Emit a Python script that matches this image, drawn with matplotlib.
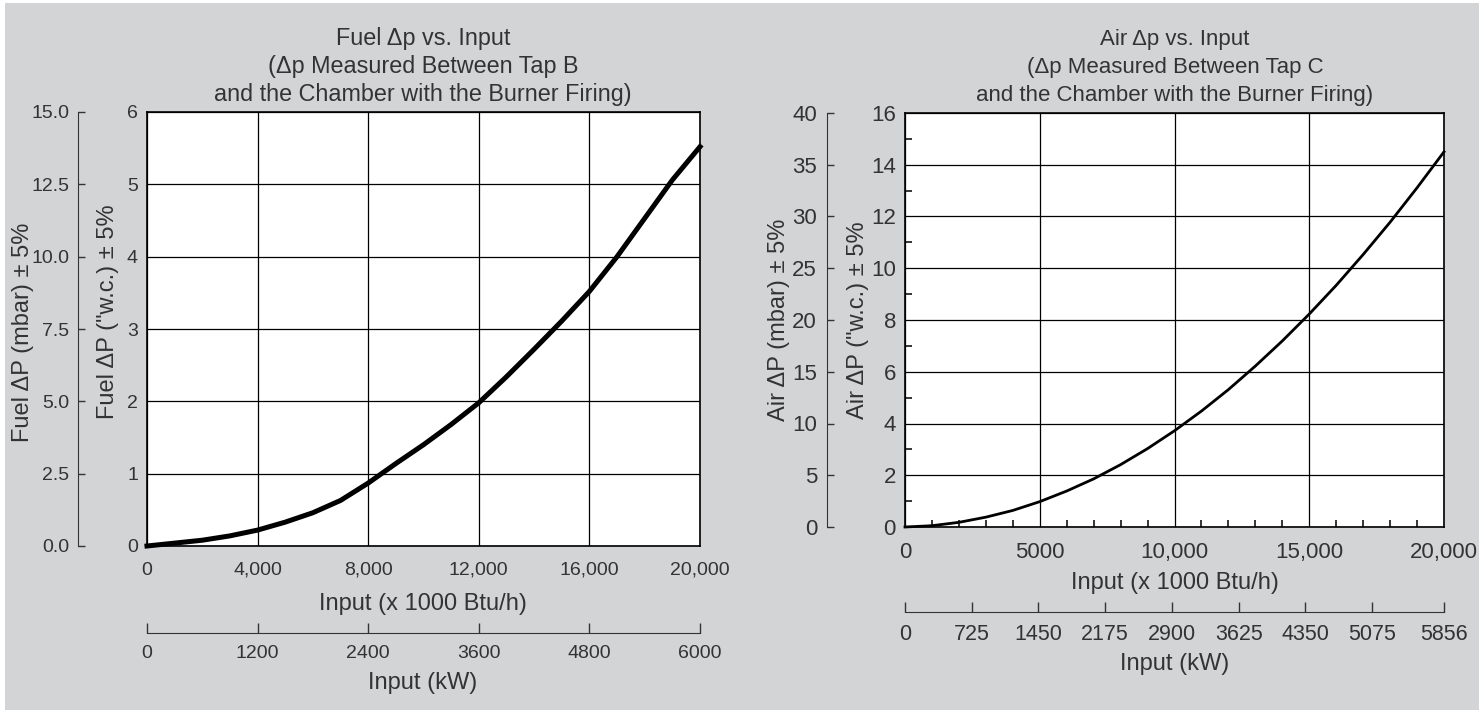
import matplotlib
matplotlib.use('Agg')
import matplotlib.pyplot as plt
from matplotlib.patches import Rectangle
from matplotlib.ticker import MultipleLocator

plt.rcParams['font.family'] = ['Liberation Sans', 'DejaVu Sans']

# Fuel chart (left): input in 1000 Btu/h, delta p in "w.c.
fuel_input = [0, 1000, 2000, 3000, 4000, 5000, 6000, 7000, 8000, 9000, 10000,
              11000, 12000, 13000, 14000, 15000, 16000, 17000, 18000, 19000, 20000]
fuel_dp = [0.0, 0.04, 0.08, 0.14, 0.22, 0.33, 0.46, 0.63, 0.87, 1.14, 1.40,
           1.68, 1.98, 2.34, 2.72, 3.11, 3.52, 4.00, 4.53, 5.06, 5.52]
fuel_xticks = [0, 4000, 8000, 12000, 16000, 20000]
fuel_xticklabels = ['0', '4,000', '8,000', '12,000', '16,000', '20,000']
fuel_yticks = [0, 1, 2, 3, 4, 5, 6]
fuel_kw_ticks = [0, 1200, 2400, 3600, 4800, 6000]
fuel_mbar_ticks = [0, 2.5, 5, 7.5, 10, 12.5, 15]
fuel_mbar_labels = ['0.0', '2.5', '5.0', '7.5', '10.0', '12.5', '15.0']

# Air chart (right)
air_input = [0, 1000, 2000, 3000, 4000, 5000, 6000, 7000, 8000, 9000, 10000,
             11000, 12000, 13000, 14000, 15000, 16000, 17000, 18000, 19000, 20000]
air_dp = [0.0, 0.05, 0.18, 0.38, 0.64, 0.98, 1.39, 1.86, 2.41, 3.03, 3.72,
          4.48, 5.31, 6.22, 7.19, 8.23, 9.34, 10.53, 11.78, 13.11, 14.50]
air_xticks = [0, 5000, 10000, 15000, 20000]
air_xticklabels = ['0', '5000', '10,000', '15,000', '20,000']
air_yticks = [0, 2, 4, 6, 8, 10, 12, 14, 16]
air_kw_ticks = [0, 725, 1450, 2175, 2900, 3625, 4350, 5075, 5856]
air_mbar_ticks = [0, 5, 10, 15, 20, 25, 30, 35, 40]

W, H = 1484, 713
TXT = '#333333'
BG = '#d3d4d6'


def rect(x0, y0, x1, y1):
    # pixel box (top-left origin) -> figure fraction
    return [x0 / W, 1 - y1 / H, (x1 - x0) / W, (y1 - y0) / H]


def ftext(x, y, s, **kw):
    fig.text(x / W, 1 - y / H, s, ha='center', va='center', color=TXT, **kw)


fig = plt.figure(figsize=(W / 100, H / 100), dpi=100, facecolor='white')
fig.patches.append(Rectangle((5 / W, 3 / H), 1474 / W, 707 / H,
                             transform=fig.transFigure, facecolor=BG,
                             edgecolor='none', zorder=-10))

# ---- left chart ----
ax1 = fig.add_axes(rect(147, 112, 700, 546))
ax1.set_facecolor('white')
ax1.plot(fuel_input, fuel_dp, color='black', lw=3.6, clip_on=False, zorder=3)
ax1.set_xlim(0, 20000)
ax1.set_ylim(0, 6)
ax1.set_xticks(fuel_xticks, fuel_xticklabels)
ax1.set_yticks(fuel_yticks)
ax1.grid(True, color='black', lw=0.9)
ax1.tick_params(axis='both', length=0, labelsize=14, labelcolor=TXT)
ax1.tick_params(axis='x', pad=11.5)
ax1.tick_params(axis='y', pad=6.5)
for s in ax1.spines.values():
    s.set_linewidth(1.2)

mb1 = ax1.secondary_yaxis(-0.125, functions=(lambda v: v * 2.5, lambda v: v / 2.5))
mb1.set_yticks(fuel_mbar_ticks, fuel_mbar_labels)
mb1.tick_params(direction='in', length=5, width=1, color=TXT, labelsize=14,
                labelcolor=TXT, pad=6)
mb1.spines['left'].set_color(TXT)

kw1 = ax1.secondary_xaxis(-0.2, functions=(lambda v: v * 0.3, lambda v: v / 0.3))
kw1.set_xticks(fuel_kw_ticks)
kw1.tick_params(direction='in', length=7, width=1, color=TXT, labelsize=14,
                labelcolor=TXT, pad=9)
kw1.spines['bottom'].set_color(TXT)

ftext(423, 38, 'Fuel \u0394p vs. Input', fontsize=16.8)
ftext(423, 67, '(\u0394p Measured Between Tap B', fontsize=16.8)
ftext(423, 95, 'and the Chamber with the Burner Firing)', fontsize=16.8)
ftext(423, 604, 'Input (x 1000 Btu/h)', fontsize=17)
ftext(423, 683, 'Input (kW)', fontsize=17)
ftext(108, 312, 'Fuel \u0394P ("w.c.) \u00b1 5%', fontsize=17, rotation=90)
ftext(23, 332, 'Fuel \u0394P (mbar) \u00b1 5%', fontsize=17, rotation=90)

# ---- right chart ----
ax2 = fig.add_axes(rect(905, 113, 1444, 527))
ax2.set_facecolor('white')
ax2.plot(air_input, air_dp, color='black', lw=2.0, clip_on=False, zorder=3)
ax2.set_xlim(0, 20000)
ax2.set_ylim(0, 16)
ax2.set_xticks(air_xticks, air_xticklabels)
ax2.set_yticks(air_yticks)
ax2.xaxis.set_minor_locator(MultipleLocator(1000))
ax2.yaxis.set_minor_locator(MultipleLocator(1))
ax2.grid(True, which='major', color='black', lw=0.9)
ax2.tick_params(axis='both', which='major', length=0, labelsize=16, labelcolor=TXT)
ax2.tick_params(axis='both', which='minor', direction='in', length=5, width=1.1,
                color='black')
ax2.tick_params(axis='x', pad=11)
ax2.tick_params(axis='y', pad=6.5)
for s in ax2.spines.values():
    s.set_linewidth(1.2)

mb2 = ax2.secondary_yaxis(-0.145, functions=(lambda v: v * 2.5, lambda v: v / 2.5))
mb2.set_yticks(air_mbar_ticks)
mb2.tick_params(direction='in', length=5, width=1, color=TXT, labelsize=16,
                labelcolor=TXT, pad=7)
mb2.spines['left'].set_color(TXT)

kw2 = ax2.secondary_xaxis(-0.205, functions=(lambda v: v * 0.2928, lambda v: v / 0.2928))
kw2.set_xticks(air_kw_ticks)
kw2.tick_params(direction='in', length=7, width=1, color=TXT, labelsize=15.5,
                labelcolor=TXT, pad=8.5)
kw2.spines['bottom'].set_color(TXT)

ftext(1175, 40, 'Air \u0394p vs. Input', fontsize=16)
ftext(1175, 68, '(\u0394p Measured Between Tap C', fontsize=16)
ftext(1175, 95, 'and the Chamber with the Burner Firing)', fontsize=16)
ftext(1175, 583, 'Input (x 1000 Btu/h)', fontsize=17)
ftext(1175, 664, 'Input (kW)', fontsize=17)
ftext(858, 320, 'Air \u0394P ("w.c.) \u00b1 5%', fontsize=17, rotation=90)
ftext(779, 320, 'Air \u0394P (mbar) \u00b1 5%', fontsize=17, rotation=90)

fig.savefig('out.png', dpi=100, facecolor='white')
